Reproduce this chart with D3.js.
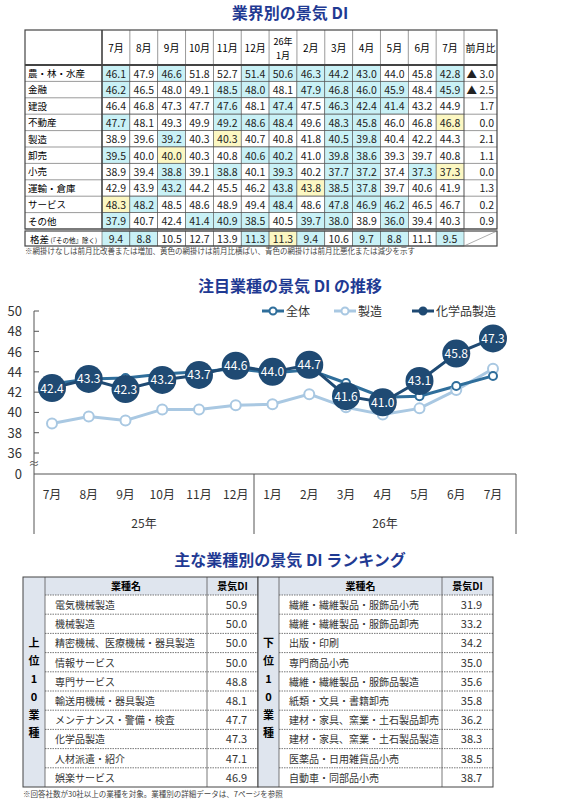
<!DOCTYPE html>
<html><head><meta charset="utf-8">
<script src="https://cdn.jsdelivr.net/npm/d3@7"></script>
<style>
body{margin:0;background:#fff;font-family:"Noto Sans CJK JP","Noto Sans",sans-serif;}
text{font-family:"Noto Sans CJK JP","Noto Sans",sans-serif;}
</style></head><body>
<svg id="c" width="576" height="800"></svg>
<script>
// ---------- data ----------
const months = ["7月","8月","9月","10月","11月","12月","26年\n1月","2月","3月","4月","5月","6月","7月"];
const industries = ["農・林・水産","金融","建設","不動産","製造","卸売","小売","運輸・倉庫","サービス","その他"];
const diRows = [
  [46.1,47.9,46.6,51.8,52.7,51.4,50.6,46.3,44.2,43.0,44.0,45.8,42.8],
  [46.2,46.5,48.0,49.1,48.5,48.0,48.1,47.9,46.8,46.0,45.9,48.4,45.9],
  [46.4,46.8,47.3,47.7,47.6,48.1,47.4,47.5,46.3,42.4,41.4,43.2,44.9],
  [47.7,48.1,49.3,49.9,49.2,48.6,48.4,49.6,48.3,45.8,46.0,46.8,46.8],
  [38.9,39.6,39.2,40.3,40.3,40.7,40.8,41.8,40.5,39.8,40.4,42.2,44.3],
  [39.5,40.0,40.0,40.3,40.8,40.6,40.2,41.0,39.8,38.6,39.3,39.7,40.8],
  [38.9,39.4,38.8,39.1,38.8,40.1,39.3,40.2,37.7,37.2,37.4,37.3,37.3],
  [42.9,43.9,43.2,44.2,45.5,46.2,43.8,43.8,38.5,37.8,39.7,40.6,41.9],
  [48.3,48.2,48.5,48.6,48.9,49.4,48.4,48.6,47.8,46.9,46.2,46.5,46.7],
  [37.9,40.7,42.4,41.4,40.9,38.5,40.5,39.7,38.0,38.9,36.0,39.4,40.3]
];
// shading of the first column (vs. the month before, not shown): "b" down, "y" flat, "" up
const firstShade = ["b","b","","b","","b","","","y","b"];
const gap = [9.4,8.8,10.5,12.7,13.9,11.3,11.3,9.4,10.6,9.7,8.8,11.1,9.5];
const gapFirstShade = "b";

const chartMonths = ["7月","8月","9月","10月","11月","12月","1月","2月","3月","4月","5月","6月","7月"];
const zentai = [42.8,43.3,43.4,43.8,44.0,44.3,43.9,44.2,42.9,41.5,41.6,42.6,43.6];
const seizo = [38.9,39.6,39.2,40.3,40.3,40.7,40.8,41.8,40.5,39.8,40.4,42.2,44.3];
const kagaku = [42.4,43.3,42.3,43.2,43.7,44.6,44.0,44.7,41.6,41.0,43.1,45.8,47.3];
const yTicks = [36,38,40,42,44,46,48,50];

const topNames = ["電気機械製造","機械製造","精密機械、医療機械・器具製造","情報サービス","専門サービス","輸送用機械・器具製造","メンテナンス・警備・検査","化学品製造","人材派遣・紹介","娯楽サービス"];
const topVals = [50.9,50.0,50.0,50.0,48.8,48.1,47.7,47.3,47.1,46.9];
const botNames = ["繊維・繊維製品・服飾品小売","繊維・繊維製品・服飾品卸売","出版・印刷","専門商品小売","繊維・繊維製品・服飾品製造","紙類・文具・書籍卸売","建材・家具、窯業・土石製品卸売","建材・家具、窯業・土石製品製造","医薬品・日用雑貨品小売","自動車・同部品小売"];
const botVals = [31.9,33.2,34.2,35.0,35.6,35.8,36.2,38.3,38.5,38.7];

const svg = d3.select("#c");
const navy = "#1f3a93", blueC = "#c9f1f6", yelC = "#fcf7c2";

function title(t, y) {
  svg.append("text").attr("x", 290).attr("y", y).attr("text-anchor", "middle")
    .attr("font-size", 16).attr("font-weight", "bold").attr("fill", navy).text(t);
}

// ---------- Section 1: table ----------
title("業界別の景気 DI", 19);
const tx0 = 25, tLab = 102, tMon = 464, tx1 = 497;
const colX = d3.scaleBand().domain(d3.range(13)).range([tLab, tMon]);
const hTop = 30, hBot = 65, rowH = 16.4;
const rowY = i => hBot + i * rowH;
const gapTop = hBot + 10 * rowH + 2, gapBot = gapTop + 15;

function shade(row, i, first) {
  if (i === 0) return first;
  return row[i] < row[i - 1] ? "b" : row[i] === row[i - 1] ? "y" : "";
}
const fillOf = s => s === "b" ? blueC : s === "y" ? yelC : "#fff";

const tg = svg.append("g");
diRows.forEach((row, r) => {
  const y = rowY(r);
  tg.append("text").attr("x", tx0 + 3).attr("y", y + 12).attr("font-size", 9.5).text(industries[r]);
  row.forEach((v, i) => {
    tg.append("rect").attr("x", colX(i)).attr("y", y).attr("width", colX.bandwidth()).attr("height", rowH)
      .attr("fill", fillOf(shade(row, i, firstShade[r]))).attr("stroke", "#555").attr("stroke-width", 0.6);
    tg.append("text").attr("x", colX(i) + colX.bandwidth() / 2).attr("y", y + 12.5).attr("text-anchor", "middle")
      .attr("font-size", 10.5).attr("fill", "#222").text(v.toFixed(1));
  });
  const d = +(row[12] - row[11]).toFixed(1);
  tg.append("text").attr("x", tx1 - 3).attr("y", y + 12.5).attr("text-anchor", "end").attr("font-size", 10.5)
    .attr("fill", "#222").text(d < 0 ? "▲ " + (-d).toFixed(1) : d.toFixed(1));
  tg.append("line").attr("x1", tx0).attr("x2", tx1).attr("y1", y + rowH).attr("y2", y + rowH).attr("stroke", "#555").attr("stroke-width", 0.6);
});
// header
months.forEach((m, i) => {
  const parts = m.split("\n");
  parts.forEach((p, k) => {
    tg.append("text").attr("x", colX(i) + colX.bandwidth() / 2)
      .attr("y", parts.length === 1 ? 52 : 45 + k * 14).attr("text-anchor", "middle")
      .attr("font-size", parts.length === 1 ? 10 : 9).text(p);
  });
});
tg.append("text").attr("x", (tMon + tx1) / 2).attr("y", 52).attr("text-anchor", "middle").attr("font-size", 10).text("前月比");
colX.domain().forEach(i => tg.append("line").attr("x1", colX(i)).attr("x2", colX(i)).attr("y1", hTop).attr("y2", hBot).attr("stroke", "#555").attr("stroke-width", 0.6));
tg.append("line").attr("x1", tMon).attr("x2", tMon).attr("y1", hTop).attr("y2", rowY(10)).attr("stroke", "#555").attr("stroke-width", 0.6);
tg.append("rect").attr("x", tx0).attr("y", hTop).attr("width", tx1 - tx0).attr("height", rowY(10) - hTop)
  .attr("fill", "none").attr("stroke", "#444").attr("stroke-width", 1.2);
tg.append("line").attr("x1", tx0).attr("x2", tx1).attr("y1", hBot).attr("y2", hBot).attr("stroke", "#444").attr("stroke-width", 2);
tg.append("line").attr("x1", tLab).attr("x2", tLab).attr("y1", hTop).attr("y2", rowY(10)).attr("stroke", "#444").attr("stroke-width", 1.5);
// gap row
gap.forEach((v, i) => {
  tg.append("rect").attr("x", colX(i)).attr("y", gapTop).attr("width", colX.bandwidth()).attr("height", gapBot - gapTop)
    .attr("fill", fillOf(shade(gap, i, gapFirstShade))).attr("stroke", "#555").attr("stroke-width", 0.6);
  tg.append("text").attr("x", colX(i) + colX.bandwidth() / 2).attr("y", gapTop + 11.5).attr("text-anchor", "middle")
    .attr("font-size", 10.5).attr("fill", "#222").text(v.toFixed(1));
});
tg.append("rect").attr("x", tx0).attr("y", gapTop).attr("width", tx1 - tx0).attr("height", gapBot - gapTop)
  .attr("fill", "none").attr("stroke", "#444").attr("stroke-width", 1.2);
tg.append("line").attr("x1", tMon).attr("x2", tx1).attr("y1", gapBot).attr("y2", gapTop).attr("stroke", "#777").attr("stroke-width", 0.6);
tg.append("text").attr("x", tx0 + 5).attr("y", gapTop + 11.5).attr("font-size", 9.5).text("格差")
  .append("tspan").attr("font-size", 6.5).text(" (『その他』除く)");
svg.append("text").attr("x", 25).attr("y", gapBot + 8).attr("font-size", 7.5).attr("fill", "#444")
  .text("※網掛けなしは前月比改善または増加、黄色の網掛けは前月比横ばい、青色の網掛けは前月比悪化または減少を示す");

// ---------- Section 2: line chart ----------
title("注目業種の景気 DI の推移", 292);
const x = d3.scalePoint().domain(d3.range(13)).range([52, 493]);
const y = d3.scaleLinear().domain([36, 50]).range([453, 311]);
const axL = 34, axB = 474, axR = 516;
const cg = svg.append("g");
cg.append("line").attr("x1", axL).attr("x2", axL).attr("y1", 311).attr("y2", 534).attr("stroke", "#555");
cg.append("line").attr("x1", axL).attr("x2", axR).attr("y1", axB).attr("y2", axB).attr("stroke", "#555");
[254, axR].forEach(v => cg.append("line").attr("x1", v).attr("x2", v).attr("y1", axB).attr("y2", 534).attr("stroke", "#555"));
yTicks.forEach(t => {
  cg.append("line").attr("x1", axL).attr("x2", axL + 5).attr("y1", y(t)).attr("y2", y(t)).attr("stroke", "#555");
  cg.append("text").attr("x", 22).attr("y", y(t) + 5).attr("text-anchor", "end").attr("font-size", 13).attr("fill", "#333").text(t);
});
cg.append("text").attr("x", 22).attr("y", axB + 5).attr("text-anchor", "end").attr("font-size", 13).attr("fill", "#333").text(0);
cg.append("text").attr("x", 34).attr("y", 468).attr("text-anchor", "middle").attr("font-size", 11).attr("fill", "#555").text("≈");
chartMonths.forEach((m, i) => cg.append("text").attr("x", x(i)).attr("y", 499).attr("text-anchor", "middle").attr("font-size", 12).attr("fill", "#333").text(m));
cg.append("text").attr("x", 144).attr("y", 528).attr("text-anchor", "middle").attr("font-size", 12).attr("fill", "#333").text("25年");
cg.append("text").attr("x", 385).attr("y", 528).attr("text-anchor", "middle").attr("font-size", 12).attr("fill", "#333").text("26年");

const line = d3.line().x((d, i) => x(i)).y(d => y(d));
const series = [
  {name: "製造", data: seizo, color: "#a9c8e2", r: 5, w: 3},
  {name: "全体", data: zentai, color: "#2f6e9b", r: 4, w: 3},
  {name: "化学品製造", data: kagaku, color: "#1f4a73", r: 14, w: 3}
];
series.forEach(s => {
  cg.append("path").datum(s.data).attr("d", line).attr("fill", "none").attr("stroke", s.color).attr("stroke-width", s.w);
});
series.forEach(s => {
  cg.selectAll(null).data(s.data).join("circle").attr("cx", (d, i) => x(i)).attr("cy", d => y(d)).attr("r", s.r)
    .attr("fill", s.r > 10 ? s.color : "#fff").attr("stroke", s.color).attr("stroke-width", s.r > 10 ? 0 : 2);
});
cg.selectAll(null).data(kagaku).join("text").attr("x", (d, i) => x(i)).attr("y", d => y(d) + 4.5).attr("text-anchor", "middle")
  .attr("font-size", 12).attr("fill", "#fff").text(d => d.toFixed(1));
// legend
const leg = [{n: "全体", x: 262, c: "#2f6e9b", f: "#fff"}, {n: "製造", x: 334, c: "#a9c8e2", f: "#fff"}, {n: "化学品製造", x: 412, c: "#1f4a73", f: "#1f4a73"}];
leg.forEach(l => {
  cg.append("line").attr("x1", l.x).attr("x2", l.x + 22).attr("y1", 311).attr("y2", 311).attr("stroke", l.c).attr("stroke-width", 3);
  cg.append("circle").attr("cx", l.x + 11).attr("cy", 311).attr("r", 3.5).attr("fill", l.f).attr("stroke", l.c).attr("stroke-width", 2);
  cg.append("text").attr("x", l.x + 24).attr("y", 316).attr("font-size", 12).attr("fill", "#333").text(l.n);
});

// ---------- Section 3: ranking ----------
title("主な業種別の景気 DI ランキング", 566);
const rTop = 577, rHead = 595, rBot = 787;
const ry = d3.scaleBand().domain(d3.range(10)).range([rHead, rBot]);
function rankTable(x0, xs, xn, xd, names, vals, side) {
  const g = svg.append("g");
  g.append("rect").attr("x", x0).attr("y", rTop).attr("width", xs - x0).attr("height", rBot - rTop).attr("fill", "#dfe5ee");
  g.append("rect").attr("x", xs).attr("y", rTop).attr("width", xd - xs).attr("height", rHead - rTop).attr("fill", "#dfe5ee");
  g.append("text").attr("x", (xs + xn) / 2).attr("y", rTop + 13).attr("text-anchor", "middle").attr("font-size", 10).attr("font-weight", "bold").text("業種名");
  g.append("text").attr("x", (xn + xd) / 2).attr("y", rTop + 13).attr("text-anchor", "middle").attr("font-size", 10).attr("font-weight", "bold").text("景気DI");
  names.forEach((n, i) => {
    g.append("line").attr("x1", xs).attr("x2", xd).attr("y1", ry(i)).attr("y2", ry(i)).attr("stroke", "#555").attr("stroke-width", 0.8).attr("stroke-dasharray", "1.5,1");
    g.append("text").attr("x", xs + 10).attr("y", ry(i) + 14).attr("font-size", 10).attr("fill", "#333").text(n);
    g.append("text").attr("x", (xn + xd) / 2 + 4).attr("y", ry(i) + 14).attr("text-anchor", "middle").attr("font-size", 11).attr("fill", "#333").text(vals[i].toFixed(1));
  });
  side.split("").forEach((ch, k) => g.append("text").attr("x", (x0 + xs) / 2).attr("y", 647 + k * 18).attr("text-anchor", "middle")
    .attr("font-size", 11).attr("font-weight", "bold").text(ch));
  g.append("line").attr("x1", xn).attr("x2", xn).attr("y1", rTop).attr("y2", rBot).attr("stroke", "#555").attr("stroke-width", 0.8);
  g.append("line").attr("x1", xs).attr("x2", xs).attr("y1", rTop).attr("y2", rBot).attr("stroke", "#555").attr("stroke-width", 0.8);
  g.append("rect").attr("x", x0).attr("y", rTop).attr("width", xd - x0).attr("height", rBot - rTop).attr("fill", "none").attr("stroke", "#444").attr("stroke-width", 1);
}
rankTable(23, 45, 207, 258, topNames, topVals, "上位10業種");
rankTable(258, 279, 442, 493, botNames, botVals, "下位10業種");
svg.append("text").attr("x", 23).attr("y", 797).attr("font-size", 7.5).attr("fill", "#444")
  .text("※回答社数が30社以上の業種を対象。業種別の詳細データは、7ページを参照");
</script>
</body></html>
